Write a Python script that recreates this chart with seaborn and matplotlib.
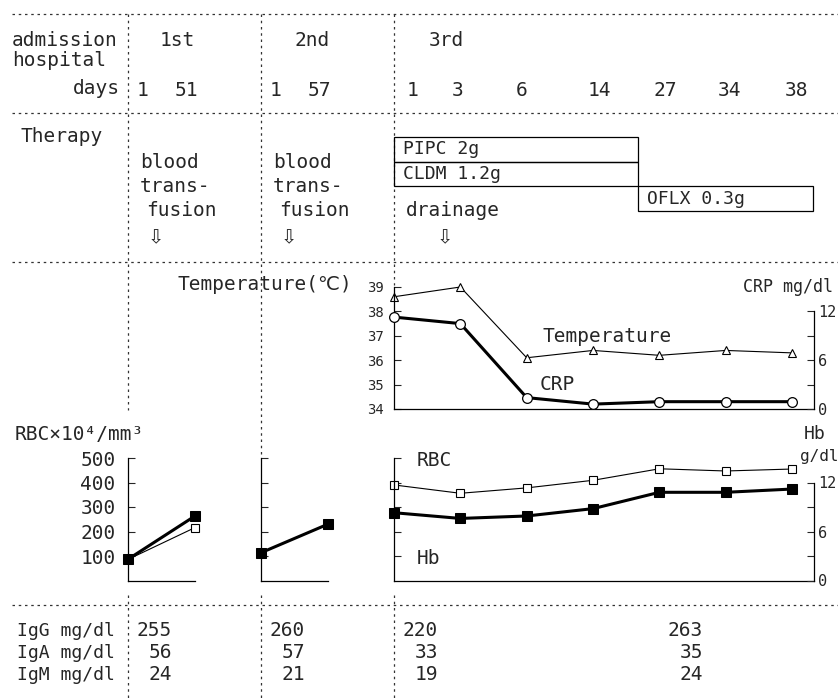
import matplotlib
matplotlib.use('Agg')
import matplotlib.pyplot as plt
import seaborn as sns
import numpy as np

# Data
days_adm1 = [1, 51]
days_adm2 = [1, 57]
days_adm3 = [1, 3, 6, 14, 27, 34, 38]

temperature = [38.6, 39.0, 36.1, 36.4, 36.2, 36.4, 36.3]   # deg C
crp = [11.3, 10.5, 1.4, 0.6, 0.9, 0.9, 0.9]                 # mg/dl

rbc_adm1 = [86, 216]          # x10^4/mm3
hb_adm1 = [2.6, 7.9]          # g/dl
hb_adm2 = [3.4, 6.9]
rbc_adm3 = [390, 356, 378, 409, 456, 447, 455]
hb_adm3 = [8.3, 7.6, 7.9, 8.8, 10.8, 10.8, 11.2]

therapy_names = ['PIPC 2g', 'CLDM 1.2g', 'OFLX 0.3g']
therapy_start = [0, 0, 3.68]      # position on the 3rd admission day axis
therapy_end = [3.68, 3.68, 6.32]

ig_rows = ['IgG mg/dl', 'IgA mg/dl', 'IgM mg/dl']
igg = [255, 260, 220, 263]
iga = [56, 57, 33, 35]
igm = [24, 21, 19, 24]

W, H = 838, 699

sns.set_style('white')
plt.rcParams['font.family'] = ['DejaVu Sans Mono', 'DejaVu Sans']
plt.rcParams['axes.linewidth'] = 0.9
plt.rcParams['axes.edgecolor'] = 'black'

fig = plt.figure(figsize=(W / 100, H / 100), dpi=100)


def rect(x0, y0, x1, y1):
    return [x0 / W, 1 - y1 / H, (x1 - x0) / W, (y1 - y0) / H]


# background layer in pixel coordinates for the grid lines and the text table
bg = fig.add_axes([0, 0, 1, 1])
bg.set_xlim(0, W)
bg.set_ylim(H, 0)
bg.axis('off')

dot = dict(color='#333333', lw=0.9, ls=(0, (2, 3)))
for y in [14, 113, 262, 605]:
    bg.plot([12, 838], [y, y], **dot)
for x, segs in [(128, [(14, 410), (595, 699)]),
                (261, [(14, 455), (595, 699)]),
                (394, [(14, 285), (595, 699)])]:
    for y0, y1 in segs:
        bg.plot([x, x], [y0, y1], **dot)


def txt(x, y, s, size=14, ha='left', **kw):
    bg.text(x, y, s, ha=ha, va='center', fontsize=size, **kw)


# header
txt(12, 40, 'admission')
txt(12, 61, 'hospital')
txt(120, 89, 'days', ha='right')
txt(160, 41, '1st')
txt(294, 41, '2nd')
txt(429, 41, '3rd')
for xs, days in [([137, 175], days_adm1), ([270, 308], days_adm2),
                 ([407, 452, 516, 588, 653, 718, 785], days_adm3)]:
    for x, d in zip(xs, days):
        txt(x, 90, str(d))

# therapy
txt(20, 136, 'Therapy')
for x0 in [140, 273]:
    txt(x0, 163, 'blood')
    txt(x0, 187, 'trans-')
    txt(x0 + 6, 210, 'fusion')
    txt(x0 + 8, 238, '\u21e9', family='DejaVu Sans')
txt(406, 210, 'drainage')
txt(437, 238, '\u21e9', family='DejaVu Sans')

ax_th = fig.add_axes(rect(394, 137, 814, 211))
ax_th.set_xlim(0, 6.33)
ax_th.set_ylim(3, 0)
bars = ax_th.barh(np.arange(3) + 0.5, np.array(therapy_end) - np.array(therapy_start),
                  left=therapy_start, height=1, fill=False, edgecolor='black', linewidth=0.9)
for b in bars:
    b.set_clip_on(False)
for i, name in enumerate(therapy_names):
    ax_th.text(therapy_start[i] + 0.13, i + 0.5, name, va='center', fontsize=13)
ax_th.axis('off')

# temperature / CRP panel
txt(352, 285, 'Temperature(\u2103)', ha='right')
txt(743, 287, 'CRP mg/dl', size=12)

pos3 = np.arange(len(days_adm3))
ax_t = fig.add_axes(rect(394, 287, 814, 409))
ax_t.patch.set_alpha(0)
sns.lineplot(x=pos3, y=temperature, ax=ax_t, color='black', linewidth=0.8,
             marker='^', markersize=5.5, markerfacecolor='white',
             markeredgecolor='black', markeredgewidth=0.8, clip_on=False)
ax_t.set_xlim(0, 6.33)
ax_t.set_ylim(34, 39)
ax_t.set_xticks([])
ax_t.set_yticks([34, 35, 36, 37, 38, 39])
ax_t.tick_params(axis='y', direction='in', length=5, labelsize=10, pad=7, left=True)
for s in ['top', 'right']:
    ax_t.spines[s].set_visible(False)

ax_crp = ax_t.twinx()
sns.lineplot(x=pos3, y=crp, ax=ax_crp, color='black', linewidth=2.2,
             marker='o', markersize=7, markerfacecolor='white',
             markeredgecolor='black', markeredgewidth=0.9, clip_on=False)
ax_crp.set_ylim(0, 15)
ax_crp.set_yticks([0, 3, 6, 9, 12])
ax_crp.set_yticklabels(['0', '', '6', '', '12'])
ax_crp.tick_params(axis='y', direction='in', length=5, labelsize=11, pad=3, right=True)
for s in ['top', 'left', 'bottom']:
    ax_crp.spines[s].set_visible(False)
ax_crp.spines['right'].set_bounds(0, 12)
ax_crp.set_ylabel('')
txt(542, 337, 'Temperature')
txt(540, 384, 'CRP')

# RBC / Hb panels
txt(15, 435, 'RBC\u00d710\u2074/mm\u00b3')
txt(804, 434, 'Hb', size=13)
txt(800, 457, 'g/dl', size=11.5)


def blood_axes(x0, x1, xmax):
    ax = fig.add_axes(rect(x0, 458, x1, 580.5))
    ax.patch.set_alpha(0)
    ax.set_xlim(0, xmax)
    ax.set_ylim(0, 500)
    ax.set_xticks([])
    ax.set_yticks([100, 200, 300, 400, 500])
    ax.tick_params(axis='y', direction='in', length=5, labelsize=14, pad=9, left=True)
    for s in ['top', 'right']:
        ax.spines[s].set_visible(False)
    ax2 = ax.twinx()
    return ax, ax2


open_sq = dict(color='black', linewidth=0.8, marker='s', markersize=6,
               markerfacecolor='white', markeredgecolor='black',
               markeredgewidth=0.8, clip_on=False)
full_sq = dict(color='black', linewidth=2.2, marker='s', markersize=6.5,
               markerfacecolor='black', markeredgecolor='black', clip_on=False)

ax_a, ax_a2 = blood_axes(128, 195, 1)
sns.lineplot(x=[0, 1], y=rbc_adm1, ax=ax_a, **open_sq)
sns.lineplot(x=[0, 1], y=hb_adm1, ax=ax_a2, **full_sq)
ax_a.set_ylim(0, 500)
ax_a2.set_ylim(0, 15)
ax_a2.axis('off')

ax_b, ax_b2 = blood_axes(261, 328, 1)
ax_b.tick_params(labelleft=False)
sns.lineplot(x=[0, 1], y=hb_adm2, ax=ax_b2, **full_sq)
ax_b2.set_ylim(0, 15)
ax_b2.axis('off')

ax_c, ax_c2 = blood_axes(394, 814, 6.33)
ax_c.tick_params(labelleft=False)
sns.lineplot(x=pos3, y=rbc_adm3, ax=ax_c, **open_sq)
sns.lineplot(x=pos3, y=hb_adm3, ax=ax_c2, **full_sq)
ax_c.set_ylim(0, 500)
ax_c2.set_ylim(0, 15)
ax_c2.set_yticks([0, 3, 6, 9, 12])
ax_c2.set_yticklabels(['0', '', '6', '', '12'])
ax_c2.tick_params(axis='y', direction='in', length=5, labelsize=11, pad=3, right=True)
for s in ['top', 'left', 'bottom']:
    ax_c2.spines[s].set_visible(False)
ax_c2.spines['right'].set_bounds(0, 12)
ax_c2.set_ylabel('')
txt(417, 460, 'RBC')
txt(417, 558, 'Hb')

# immunoglobulin table
for j, (label, vals) in enumerate(zip(ig_rows, [igg, iga, igm])):
    y = 631 + j * 22
    txt(17, y, label, size=13)
    for x, v in zip([172, 305, 438, 703], vals):
        txt(x, y, str(v), ha='right')

fig.savefig('out.png', dpi=100)
